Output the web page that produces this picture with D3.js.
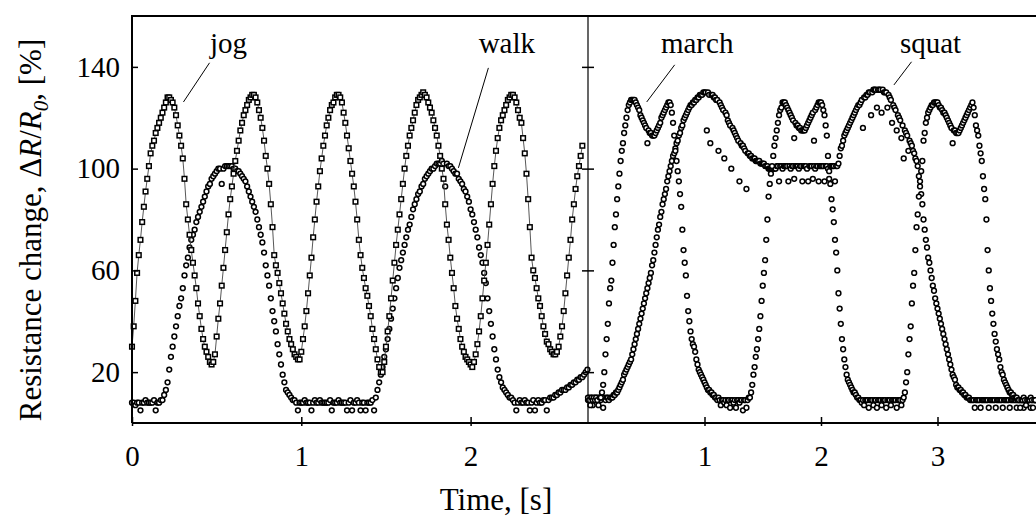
<!DOCTYPE html>
<html>
<head>
<meta charset="utf-8">
<script src="https://cdnjs.cloudflare.com/ajax/libs/d3/7.8.5/d3.min.js"></script>
<style>
	body { margin: 0; background: #fff; }
	svg { display: block; font-family: 'Liberation Serif', 'Times New Roman', serif; }
</style>
</head>
<body>
<svg id="chart" width="1036" height="516"></svg>
<script>

// sampling step of the recordings, [s]
const DT = 0.01;

// left panel, resistance change [%]
var jog = [
	30, 38, 48, 59, 66, 72, 79, 85, 91, 96,
	101, 106, 109, 111, 114, 116, 118, 120, 122, 124,
	126, 128, 128, 127, 126, 124, 121, 117, 113, 109,
	104, 96, 86, 80, 74, 68, 63, 58, 53, 47,
	42, 37, 33, 30, 28, 26, 24, 23, 24, 27,
	34, 41, 47, 54, 61, 68, 75, 82, 88, 93,
	98, 103, 107, 111, 115, 118, 121, 123, 125, 127,
	128, 129, 129, 128, 126, 123, 120, 116, 111, 105,
	100, 94, 86, 77, 66, 62, 59, 55, 51, 47,
	43, 39, 36, 33, 31, 29, 27, 26, 25, 25,
	28, 33, 38, 44, 51, 58, 65, 73, 80, 87,
	93, 99, 104, 109, 113, 117, 120, 123, 125, 126,
	128, 129, 129, 128, 126, 122, 118, 113, 108, 103,
	98, 93, 87, 80, 72, 66, 61, 57, 53, 50,
	46, 42, 37, 33, 29, 25, 22, 20, 20, 24,
	30, 36, 42, 49, 56, 63, 70, 76, 82, 88,
	94, 100, 105, 109, 113, 116, 119, 122, 125, 127,
	128, 129, 130, 129, 128, 126, 124, 122, 119, 116,
	113, 109, 105, 100, 96, 86, 78, 72, 65, 59,
	53, 46, 41, 37, 33, 30, 28, 26, 25, 24,
	23, 22, 24, 27, 31, 36, 42, 49, 56, 63,
	70, 78, 86, 94, 101, 107, 112, 116, 119, 121,
	123, 125, 127, 128, 129, 129, 128, 126, 123, 120,
	118, 112, 106, 98, 88, 77, 65, 60, 57, 53,
	49, 46, 42, 38, 35, 32, 31, 29, 28, 27,
	27, 28, 30, 34, 38, 44, 51, 58, 65, 72,
	80, 86, 92, 97, 101, 105, 109
];
var walk = [
	8, 8, 7, 8, 8, 5, 8, 8, 9, 8,
	8, 8, 8, 9, 5, 8, 8, 9, 9, 11,
	13, 16, 21, 26, 30, 34, 38, 42, 46, 49,
	53, 58, 62, 65, 69, 72, 74, 76, 79, 81,
	83, 85, 87, 89, 91, 93, 94, 96, 97, 98,
	99, 100, 100, 94, 100, 101, 101, 101, 101, 101,
	100, 100, 99, 99, 98, 97, 96, 95, 93, 91,
	89, 87, 85, 83, 80, 77, 74, 71, 67, 62,
	58, 54, 49, 44, 40, 36, 31, 27, 23, 19,
	16, 13, 12, 11, 10, 9, 9, 8, 5, 8,
	8, 8, 9, 8, 8, 8, 5, 8, 9, 8,
	8, 9, 8, 8, 8, 8, 8, 9, 5, 8,
	8, 8, 9, 8, 8, 8, 8, 5, 8, 9,
	5, 8, 8, 9, 8, 5, 8, 8, 5, 8,
	8, 8, 9, 5, 10, 13, 16, 19, 22, 26,
	29, 33, 37, 41, 45, 49, 53, 57, 61, 64,
	67, 70, 73, 76, 78, 81, 84, 86, 88, 90,
	91, 93, 94, 96, 97, 98, 99, 100, 100, 101,
	102, 102, 102, 103, 102, 93, 102, 101, 101, 100,
	99, 98, 98, 96, 95, 94, 92, 91, 89, 87,
	84, 82, 79, 76, 73, 69, 66, 63, 59, 55,
	49, 44, 39, 34, 29, 25, 21, 18, 16, 14,
	13, 12, 11, 10, 10, 9, 8, 5, 8, 9,
	8, 8, 9, 8, 8, 5, 8, 9, 5, 8,
	9, 8, 8, 9, 9, 5, 9, 10, 10, 10,
	11, 11, 12, 12, 13, 13, 13, 14, 14, 15,
	15, 16, 16, 17, 17, 18, 18, 19, 20, 21
];

// right panel, resistance change [%]
var march = [
	10, 9, 7, 10, 9, 10, 9, 10, 9, 7,
	10, 10, 12, 15, 20, 27, 33, 39, 47, 53,
	56, 63, 70, 77, 82, 88, 93, 98, 103, 107,
	110, 114, 117, 120, 123, 125, 126, 127, 127, 127,
	127, 126, 125, 124, 123, 121, 120, 119, 118, 117,
	116, 110, 115, 114, 114, 113, 113, 113, 114, 115,
	116, 117, 118, 120, 121, 122, 123, 124, 125, 126,
	126, 125, 122, 118, 113, 107, 103, 99, 95, 90,
	85, 76, 68, 63, 58, 50, 44, 40, 36, 33,
	31, 30, 28, 25, 23, 21, 20, 19, 18, 17,
	16, 15, 14, 13, 13, 12, 12, 11, 11, 10,
	10, 9, 10, 9, 7, 9, 9, 8, 9, 7,
	9, 9, 6, 9, 9, 8, 9, 6, 9, 9,
	8, 9, 9, 5, 9, 9, 6, 9, 10, 10,
	12, 15, 19, 22, 26, 29, 33, 37, 42, 48,
	54, 59, 64, 72, 80, 89, 94, 98, 101, 105,
	109, 112, 115, 118, 121, 123, 124, 126, 126, 126,
	125, 124, 123, 122, 121, 120, 119, 112, 118, 117,
	117, 116, 116, 115, 115, 115, 115, 116, 117, 118,
	119, 120, 121, 122, 111, 123, 124, 125, 126, 126,
	126, 125, 123, 121, 117, 113, 105, 99, 94, 88,
	84, 79, 72, 67, 60, 51, 45, 39, 33, 29,
	25, 22, 19, 17, 16, 15, 14, 13, 12, 12,
	11, 10, 10, 9, 9, 8, 9, 7, 9, 9,
	9, 6, 9, 9, 9, 7, 9, 9, 6, 9,
	9, 9, 7, 9, 9, 9, 6, 9, 9, 9,
	7, 9, 9, 9, 9, 6, 9, 9, 9, 7,
	9, 10, 12, 16, 20, 27, 33, 38, 47, 54,
	59, 68, 77, 82, 89, 95, 99, 103, 111, 114,
	118, 120, 122, 123, 124, 125, 125, 126, 126, 126,
	126, 125, 124, 124, 123, 122, 122, 121, 120, 119,
	118, 117, 116, 110, 115, 115, 114, 114, 114, 115,
	116, 117, 118, 119, 120, 121, 122, 123, 124, 125,
	126, 124, 121, 117, 115, 113, 109, 106, 103, 97,
	92, 88, 80, 68, 60, 53, 48, 43, 39, 35,
	32, 29, 27, 25, 22, 20, 19, 17, 16, 15,
	14, 13, 12, 12, 11, 11, 10, 10, 10, 9,
	9, 6, 9, 9, 10, 9, 7, 9, 9, 9,
	10, 9, 6, 9, 9
];
var squat = [
	9, 10, 9, 10, 7, 9, 10, 9, 10, 9,
	10, 9, 10, 6, 10, 9, 10, 10, 9, 10,
	10, 10, 11, 11, 12, 12, 13, 14, 15, 16,
	17, 19, 20, 21, 22, 23, 24, 25, 27, 29,
	31, 33, 35, 37, 39, 41, 43, 45, 47, 49,
	51, 53, 55, 57, 59, 62, 64, 67, 70, 73,
	76, 78, 81, 83, 86, 88, 90, 92, 95, 97,
	99, 101, 103, 105, 106, 108, 110, 111, 113, 114,
	116, 117, 119, 120, 121, 122, 123, 124, 125, 125,
	126, 126, 127, 127, 128, 128, 129, 129, 129, 130,
	130, 130, 115, 130, 129, 110, 129, 129, 128, 128,
	127, 127, 107, 126, 125, 124, 123, 104, 122, 121,
	119, 118, 117, 100, 116, 115, 114, 113, 112, 111,
	95, 110, 109, 109, 108, 107, 92, 106, 106, 105,
	105, 104, 104, 104, 103, 103, 103, 103, 102, 102,
	102, 102, 101, 101, 101, 100, 100, 100, 100, 100,
	100, 100, 101, 101, 95, 101, 101, 100, 101, 101,
	101, 101, 95, 101, 100, 101, 101, 96, 101, 101,
	101, 100, 101, 101, 95, 101, 101, 101, 100, 95,
	101, 101, 101, 96, 101, 100, 101, 101, 95, 101,
	101, 101, 101, 95, 101, 101, 100, 96, 101, 101,
	101, 101, 95, 101, 101, 102, 105, 108, 109, 111,
	113, 114, 115, 116, 117, 118, 119, 120, 121, 122,
	123, 124, 125, 125, 126, 127, 116, 128, 128, 129,
	129, 130, 130, 121, 130, 131, 131, 131, 124, 131,
	131, 131, 122, 131, 130, 130, 130, 124, 129, 128,
	127, 118, 125, 124, 123, 115, 121, 120, 119, 112,
	117, 104, 115, 114, 113, 107, 111, 110, 109, 107,
	106, 104, 103, 101, 97, 93, 90, 86, 80, 76,
	72, 69, 65, 63, 60, 57, 54, 52, 49, 47,
	45, 43, 41, 39, 37, 35, 33, 31, 29, 27,
	25, 23, 21, 19, 18, 17, 15, 14, 14, 13,
	13, 12, 12, 11, 11, 10, 10, 10, 9, 9,
	9, 9, 6, 9, 9, 9, 9, 6, 9, 9,
	9, 9, 9, 9, 6, 9, 9, 9, 9, 9,
	6, 9, 9, 9, 9, 9, 6, 9, 9, 9,
	9, 9, 6, 9, 9, 9, 9, 9, 6, 9,
	9, 9, 9, 9, 6, 9, 9, 9, 9, 9,
	6, 9, 9, 9, 9
];

// ticks and labels
const Y_TICKS = [20, 60, 100, 140];
const X_TICKS_L = [0, 1, 2];
const X_TICKS_R = [1, 2, 3];
const LABELS = ['jog', 'walk', 'march', 'squat'];

// layout
const LEFT = 132, MID = 588, RIGHT = 1036, TOP = 16, BOTTOM = 423;
const PX_PER_S_L = 169.3, PX_PER_S_R = 116.5;
// label anchors in data units: [panel, x, y, leader x1, y1, x2, y2]
const NOTE_POS = [
	['L', 0.57, 145.5, 0.458, 141.6, 0.304, 126.2],
	['L', 2.214, 145.5, 2.105, 139.6, 1.928, 100.3],
	['R', 0.937, 145.5, 0.744, 140.8, 0.504, 126.2],
	['R', 2.94, 145.5, 2.777, 142, 2.626, 132.9]
];

var svg = d3.select('#chart');

var y = d3.scaleLinear().domain([0, 160]).range([BOTTOM, TOP]);
var xL = d3.scaleLinear().domain([0, (MID - LEFT) / PX_PER_S_L]).range([LEFT, MID]);
var xR = d3.scaleLinear().domain([0, (RIGHT - MID) / PX_PER_S_R]).range([MID, RIGHT]);

function pts(arr) {
	return arr.map(function(v, i) { return { t: i * DT, v: v }; });
}

function circles(arr, x) {
	svg.append('g')
		.selectAll('circle')
		.data(pts(arr))
		.enter()
		.append('circle')
		.attr('cx', function(d) { return x(d.t); })
		.attr('cy', function(d) { return y(d.v); })
		.attr('r', 2.4)
		.style('fill', 'white')
		.style('stroke', 'black')
		.style('stroke-width', 1.5);
}

// left panel
circles(walk, xL);

svg.append('path')
	.datum(pts(jog))
	.attr('d', d3.line().x(function(d) { return xL(d.t); }).y(function(d) { return y(d.v); }))
	.style('fill', 'none')
	.style('stroke', '#444')
	.style('stroke-width', 0.9);

svg.append('g')
	.selectAll('rect')
	.data(pts(jog))
	.enter()
	.append('rect')
	.attr('x', function(d) { return xL(d.t) - 2.3; })
	.attr('y', function(d) { return y(d.v) - 2.3; })
	.attr('width', 4.6)
	.attr('height', 4.6)
	.style('fill', 'white')
	.style('stroke', 'black')
	.style('stroke-width', 1.5);

// right panel
circles(squat, xR);
circles(march, xR);

// axes
var fontAxis = function(g) {
	g.attr('font-family', null).attr('font-size', null);
	g.selectAll('text').style('font-size', '29px').style('fill', 'black');
	g.selectAll('line').style('stroke-width', 1.5);
	g.select('.domain').remove();
};

svg.append('g')
	.attr('transform', 'translate(' + LEFT + ',0)')
	.call(d3.axisLeft(y).tickValues(Y_TICKS).tickSize(-6).tickPadding(12).tickFormat(d3.format('d')))
	.call(fontAxis);

svg.append('g')
	.attr('transform', 'translate(' + MID + ',0)')
	.call(d3.axisLeft(y).tickValues(Y_TICKS).tickSize(-6).tickFormat(''))
	.call(fontAxis)
	.selectAll('.tick line').attr('x1', -6);

svg.append('g')
	.attr('transform', 'translate(0,' + BOTTOM + ')')
	.call(d3.axisBottom(xL).tickValues(X_TICKS_L).tickSize(-6).tickPadding(22).tickFormat(d3.format('d')))
	.call(fontAxis)
	.selectAll('.tick line').attr('y1', 3);

svg.append('g')
	.attr('transform', 'translate(0,' + BOTTOM + ')')
	.call(d3.axisBottom(xR).tickValues(X_TICKS_R).tickSize(-6).tickPadding(22).tickFormat(d3.format('d')))
	.call(fontAxis)
	.selectAll('.tick line').attr('y1', 3);

// frame
svg.append('path')
	.attr('d', 'M' + LEFT + ',' + BOTTOM + 'V' + TOP + 'H' + RIGHT + 'M' + LEFT + ',' + BOTTOM + 'H' + RIGHT)
	.style('fill', 'none')
	.style('stroke', 'black')
	.style('stroke-width', 2);

svg.append('line')
	.attr('x1', MID).attr('x2', MID)
	.attr('y1', TOP).attr('y2', BOTTOM)
	.style('stroke', 'black')
	.style('stroke-width', 1.2);

// annotations
NOTE_POS.forEach(function(p, i) {
	var x = p[0] == 'L' ? xL : xR;
	svg.append('text')
		.attr('x', x(p[1]))
		.attr('y', y(p[2]))
		.attr('text-anchor', 'middle')
		.style('font-size', '29px')
		.text(LABELS[i]);
	svg.append('line')
		.attr('x1', x(p[3])).attr('y1', y(p[4]))
		.attr('x2', x(p[5])).attr('y2', y(p[6]))
		.style('stroke', 'black')
		.style('stroke-width', 1);
});

// axis titles
svg.append('text')
	.attr('x', 496)
	.attr('y', 510)
	.attr('text-anchor', 'middle')
	.style('font-size', '31px')
	.text('Time, [s]');

var yTitle = svg.append('text')
	.attr('transform', 'translate(41,230) rotate(-90)')
	.attr('text-anchor', 'middle')
	.style('font-size', '31px');
yTitle.append('tspan').text('Resistance change, \u0394');
yTitle.append('tspan').style('font-style', 'italic').text('R');
yTitle.append('tspan').text('/');
yTitle.append('tspan').style('font-style', 'italic').text('R');
yTitle.append('tspan').style('font-style', 'italic').style('font-size', '21px').attr('dy', 7).text('0');
yTitle.append('tspan').attr('dy', -7).text(', [%]');

</script>
</body>
</html>
